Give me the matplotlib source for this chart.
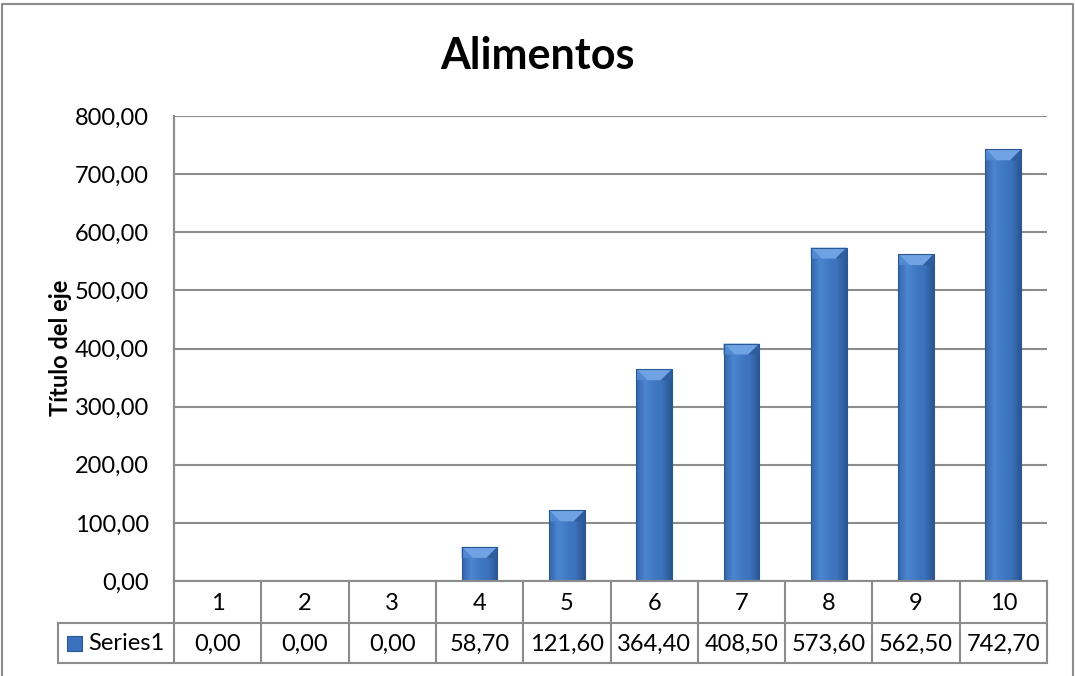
import numpy as np
import matplotlib
matplotlib.use("Agg")
import matplotlib.pyplot as plt
from matplotlib.colors import LinearSegmentedColormap
from matplotlib.patches import Polygon, Rectangle
from matplotlib.lines import Line2D

categories = ["1", "2", "3", "4", "5", "6", "7", "8", "9", "10"]
values = [0.00, 0.00, 0.00, 58.70, 121.60, 364.40, 408.50, 573.60, 562.50, 742.70]
series_name = "Series1"
title = "Alimentos"
y_title = "Título del eje"
y_ticks = [0, 100, 200, 300, 400, 500, 600, 700, 800]

plt.rcParams["font.family"] = ["Lato", "DejaVu Sans"]
FS = 17

W, H = 1075, 676
fig = plt.figure(figsize=(W / 100, H / 100), dpi=100)

# plot area in pixels
L, R, T, B = 174, 1047, 116, 581
ax = fig.add_axes([L / W, (H - B) / H, (R - L) / W, (B - T) / H])
ax.set_xlim(0, len(categories))
ax.set_ylim(0, 800)

GRID = "#8c8c8c"
for s in ["top", "right", "bottom"]:
    ax.spines[s].set_visible(False)
ax.spines["left"].set_color(GRID)
ax.spines["left"].set_linewidth(1.5)
ax.set_yticks(y_ticks)
ax.set_yticklabels([f"{v:.2f}".replace(".", ",") for v in y_ticks], fontsize=FS)
ax.tick_params(axis="y", length=0, pad=18)
ax.set_xticks([])
ax.yaxis.grid(True, color=GRID, linewidth=1.5)
ax.set_axisbelow(True)

# bar body gradient (left to right)
bar_cmap = LinearSegmentedColormap.from_list(
    "bar", ["#3666aa", "#4c85d0", "#4079c4", "#3b71ba", "#2a5590"])
grad = np.linspace(0, 1, 64).reshape(1, -1)

bw = 0.41
px_x = (R - L) / len(categories)   # pixels per category
px_y = (B - T) / 800.0             # pixels per unit
dx = 11 / px_x
dy = 11 / px_y
for i, v in enumerate(values):
    if v <= 0:
        continue
    x0 = i + 0.5 - bw / 2
    x1 = x0 + bw
    rect = Rectangle((x0, 0), bw, v, facecolor="#3b71ba", edgecolor="none", zorder=3)
    ax.add_patch(rect)
    im = ax.imshow(grad, cmap=bar_cmap, extent=[x0, x1, 0, v], aspect="auto",
                   zorder=3.1, interpolation="bilinear")
    im.set_clip_path(rect)
    d = min(dy, v / 2)
    # bevelled top
    ax.add_patch(Polygon([(x0, v), (x1, v), (x1 - dx, v - d), (x0 + dx, v - d)],
                         closed=True, facecolor="#6fa3e4", edgecolor="none", zorder=3.2))
    ax.add_patch(Polygon([(x0, v), (x0 + dx, v - d), (x0, v - d)],
                         closed=True, facecolor="#5089d2", edgecolor="none", zorder=3.2))
    ax.add_patch(Polygon([(x1, v), (x1 - dx, v - d), (x1, v - d)],
                         closed=True, facecolor="#2f5e9e", edgecolor="none", zorder=3.2))
    ax.add_patch(Rectangle((x0, 0), bw, v, facecolor="none", edgecolor="#2b5794",
                           linewidth=0.8, zorder=3.3))

# data table under the axis
row1, row2, row3 = 581, 623, 663
leg_left = 58


def px(x, y):
    return x / W, 1 - y / H


def hline(y, xa, xb):
    fig.add_artist(Line2D([xa / W, xb / W], [1 - y / H, 1 - y / H],
                          color=GRID, linewidth=1.5))


def vline(x, ya, yb):
    fig.add_artist(Line2D([x / W, x / W], [1 - ya / H, 1 - yb / H],
                          color=GRID, linewidth=1.5))


hline(row1, L, R)
hline(row2, leg_left, R)
hline(row3, leg_left, R)
vline(leg_left, row2, row3)
for k in range(len(categories) + 1):
    vline(L + k * px_x, row1 if k > 0 else T, row3)

for k, (c, v) in enumerate(zip(categories, values)):
    cx = L + (k + 0.5) * px_x
    fig.text(*px(cx, (row1 + row2) / 2 + 2), c, ha="center", va="center", fontsize=FS)
    fig.text(*px(cx, (row2 + row3) / 2 + 1), f"{v:.2f}".replace(".", ","),
             ha="center", va="center", fontsize=FS)

# legend key
fig.add_artist(Rectangle(px(67, 651), 15 / W, 15 / H, facecolor="#3b71ba",
                         edgecolor="#2b5794", linewidth=0.8))
fig.text(*px(88, (row2 + row3) / 2 + 1), series_name, ha="left", va="center", fontsize=FS)

fig.text(*px(537, 56), title, ha="center", va="center", fontsize=31, fontweight="bold")
fig.text(*px(60, 348), y_title, ha="center", va="center", rotation=90,
         fontsize=FS, fontweight="bold")

# chart frame
fig.add_artist(Line2D([2 / W, 2 / W, 1073 / W, 1073 / W],
                      [0, 1 - 4 / H, 1 - 4 / H, 0], color=GRID, linewidth=1.5))

fig.savefig("out.png", dpi=100, facecolor="white")
